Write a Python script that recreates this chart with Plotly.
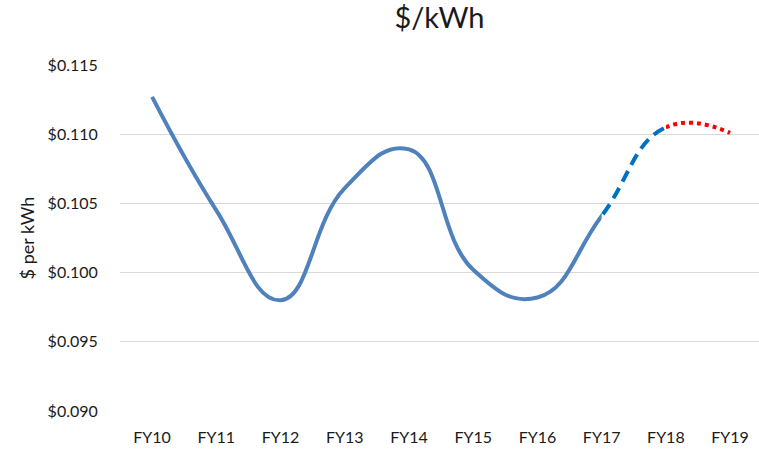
import plotly.graph_objects as go

# ---- data ----
categories = ["FY10", "FY11", "FY12", "FY13", "FY14", "FY15", "FY16", "FY17", "FY18", "FY19"]
rate = [0.1127, 0.1045, 0.0980, 0.1061, 0.1089, 0.1002, 0.0982, 0.1041, 0.1105, 0.1101]
y_ticks = [0.090, 0.095, 0.100, 0.105, 0.110, 0.115]
y_tick_labels = ["$0.090", "$0.095", "$0.100", "$0.105", "$0.110", "$0.115"]

# ---- style / layout ----
W, H = 759, 449
FONT = "Lato, 'Open Sans', sans-serif"
TXT = "#1a1a1a"
X_MIN, X_MAX = -0.5, 9.45
Y_MIN, Y_MAX = 0.090, 0.115
span = X_MAX - X_MIN
idx = list(range(len(categories)))


def frac(i):
    return (i - X_MIN) / span


i17 = categories.index("FY17")
i18 = categories.index("FY18")
f17, f18 = frac(i17), frac(i18)

fig = go.Figure()

# main subplot (gridlines, tick labels) - nothing drawn
fig.add_trace(go.Scatter(x=idx, y=rate, mode="none", xaxis="x", yaxis="y",
                         hoverinfo="skip", showlegend=False))

# one smooth curve, shown in three clipped windows with different styles
segments = [
    ("x2", "y2", [0, f17], [X_MIN, i17], dict(color="#4F81BD", width=4)),
    ("x3", "y3", [f17, f18], [i17, i18], dict(color="#0070C0", width=4, dash="12px,7px")),
    ("x4", "y4", [f18, 1], [i18, X_MAX], dict(color="#FF0000", width=4, dash="dot")),
]
for xa, ya, dom, rng, line in segments:
    fig.add_trace(go.Scatter(
        x=idx, y=rate, mode="lines", xaxis=xa, yaxis=ya,
        line=dict(shape="spline", smoothing=1.3, **line),
        hoverinfo="skip", showlegend=False,
    ))

layout_axes = {}
for k, (xa, ya, dom, rng, line) in enumerate(segments):
    n = xa[1:]
    layout_axes["xaxis" + n] = dict(domain=dom, range=rng, anchor="y" + n, visible=False,
                                    fixedrange=True)
    layout_axes["yaxis" + n] = dict(range=[Y_MIN, Y_MAX], anchor="x" + n, visible=False,
                                    fixedrange=True)

fig.update_layout(
    width=W, height=H,
    margin=dict(l=120, r=0, t=65, b=38),
    paper_bgcolor="white",
    plot_bgcolor="rgba(0,0,0,0)",
    font=dict(family=FONT, color=TXT),
    title=dict(text="$/kWh", x=0.5, xanchor="center", y=0.96, yanchor="middle",
               xref="paper", font=dict(size=29, family=FONT, color=TXT)),
    xaxis=dict(
        domain=[0, 1], range=[X_MIN, X_MAX], type="linear",
        tickmode="array", tickvals=idx, ticktext=categories,
        showgrid=False, zeroline=False, showline=False,
        ticks="outside", ticklen=12, tickcolor="rgba(0,0,0,0)",
        tickfont=dict(size=16, family=FONT, color=TXT),
        fixedrange=True,
    ),
    yaxis=dict(
        range=[Y_MIN, Y_MAX], tickmode="array", tickvals=y_ticks, ticktext=y_tick_labels,
        showgrid=True, gridcolor="#D9D9D9", gridwidth=1,
        zeroline=False, showline=False,
        ticks="outside", ticklen=18, tickcolor="rgba(0,0,0,0)",
        tickfont=dict(size=16, family=FONT, color=TXT),
        title=dict(text="$ per kWh", standoff=8, font=dict(size=18, family=FONT, color=TXT)),
        fixedrange=True,
    ),
    **layout_axes,
)

fig.write_html("out.html")
